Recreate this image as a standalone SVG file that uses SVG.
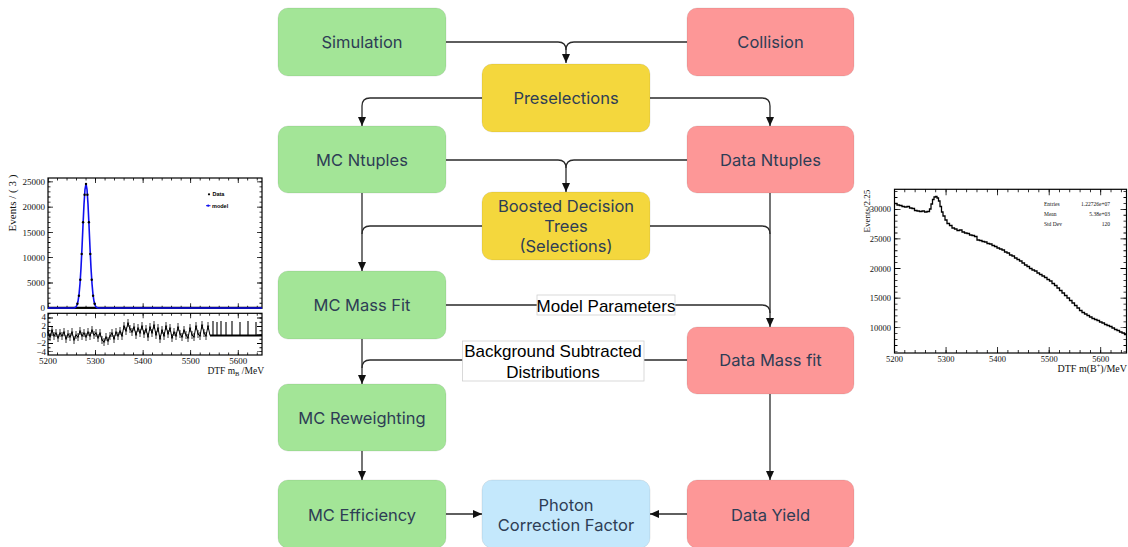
<svg xmlns="http://www.w3.org/2000/svg" width="1128" height="547" viewBox="0 0 1128 547">
  <style>
    .node rect { stroke: #000; stroke-opacity: 0.08; stroke-width: 1; }
    .green rect { fill: #a3e597; }
    .red rect { fill: #fd9797; }
    .yellow rect { fill: #f4d73d; }
    .blue rect { fill: #c4e8fc; }
    .node text { font-family: Inter, "Open Sans", sans-serif; font-size: 16.5px; fill: #2e3d55; text-anchor: middle; }
    .conn path { fill: none; stroke: #2a2a2a; stroke-width: 1.3; }
    .lbl rect { fill: #fff; stroke: #d0d0d0; stroke-width: 0.8; }
    .lbl text { font-family: "Liberation Sans", Arial, sans-serif; font-size: 17px; fill: #000; text-anchor: middle; }
    .ax { font-family: "Liberation Serif", "Times New Roman", serif; fill: #111; }
    .tk { stroke: #000; fill: none; }
    .frame { fill: none; stroke: #000; stroke-width: 1.2; }
  </style>
  <defs>
    <marker id="arr" markerUnits="userSpaceOnUse" markerWidth="10" markerHeight="9" refX="9" refY="4" orient="auto">
      <path d="M0,0 L9,4 L0,8 z" fill="#111"/>
    </marker>
    <!-- error bar drawn at every pull point -->
    <marker id="ebar" markerUnits="userSpaceOnUse" markerWidth="3" markerHeight="10" refX="1.5" refY="5" orient="0">
      <path d="M1.5,1 V9 M0.3,5 H2.7" stroke="#000" stroke-width="0.8"/>
    </marker>
  </defs>

  <rect width="1128" height="547" fill="#fff"/>

  <!-- left plot: fitted mass distribution with pull panel -->
  <g id="plot-mc-fit">
    <text class="ax" font-size="11" transform="translate(16,203) rotate(-90)" text-anchor="middle">Events / ( 3 )</text>
    <rect class="frame" x="48" y="178" width="214" height="130.3"/>
    <g class="ax" font-size="9" text-anchor="end">
      <text x="45" y="184.8">25000</text>
      <text x="45" y="210.2">20000</text>
      <text x="45" y="235.5">15000</text>
      <text x="45" y="260.8">10000</text>
      <text x="45" y="286.1">5000</text>
      <text x="45" y="311.4">0</text>
    </g>
    <g class="tk">
      <line x1="49.25" y1="308.3" x2="49.25" y2="178" stroke-width="2.5" stroke-dasharray="0.8 4.26" stroke-dashoffset="0.4"/>
      <line x1="50.5" y1="308.3" x2="50.5" y2="178" stroke-width="5" stroke-dasharray="0.8 24.5" stroke-dashoffset="0.4"/>
      <line x1="260.75" y1="308.3" x2="260.75" y2="178" stroke-width="2.5" stroke-dasharray="0.8 4.26" stroke-dashoffset="0.4"/>
      <line x1="259.5" y1="308.3" x2="259.5" y2="178" stroke-width="5" stroke-dasharray="0.8 24.5" stroke-dashoffset="0.4"/>
      <line x1="48" y1="179.25" x2="262" y2="179.25" stroke-width="2.5" stroke-dasharray="0.8 8.71" stroke-dashoffset="0.4"/>
      <line x1="48" y1="180.5" x2="262" y2="180.5" stroke-width="5" stroke-dasharray="0.8 46.76" stroke-dashoffset="0.4"/>
      <line x1="48" y1="307.05" x2="262" y2="307.05" stroke-width="2.5" stroke-dasharray="0.8 8.71" stroke-dashoffset="0.4"/>
      <line x1="48" y1="305.8" x2="262" y2="305.8" stroke-width="5" stroke-dasharray="0.8 46.76" stroke-dashoffset="0.4"/>
    </g>
    <line x1="48" y1="307.6" x2="262" y2="307.6" stroke="#000" stroke-width="1.8"/>
    <polyline fill="none" stroke="#1010ee" stroke-width="1.6" stroke-linejoin="round"
      points="48,308 74,308 75,307.6 76,306.8 77,305.1 78,301.3 79,294.6 80,283.7 81,268 82,247.8 83,225.3 84,204.3 85,189.3 86,183.8 87,189.3 88,204.3 89,225.3 90,247.8 91,268 92,283.7 93,294.6 94,301.3 95,305.1 96,306.8 97,307.6 98,308 262,308"/>
    <g fill="#000">
      <circle cx="86" cy="184" r="1.2"/>
      <circle cx="84.6" cy="194.7" r="1.2"/><circle cx="87.4" cy="194.7" r="1.2"/>
      <circle cx="83.1" cy="222.2" r="1.2"/><circle cx="88.9" cy="222.2" r="1.2"/>
      <circle cx="81.7" cy="254" r="1.2"/><circle cx="90.3" cy="254" r="1.2"/>
      <circle cx="80.3" cy="279.8" r="1.2"/><circle cx="91.7" cy="279.8" r="1.2"/>
      <circle cx="78.9" cy="295.8" r="1.2"/><circle cx="93.1" cy="295.8" r="1.2"/>
      <circle cx="77.4" cy="303.8" r="1.2"/><circle cx="94.6" cy="303.8" r="1.2"/>
    </g>
    <g font-family="'Liberation Sans', Arial, sans-serif" font-size="5.5" font-weight="bold">
      <circle cx="209" cy="194.3" r="1.1" fill="#000"/>
      <text x="212.5" y="196.3" fill="#000">Data</text>
      <line x1="206" y1="205.7" x2="210.5" y2="205.7" stroke="#1010ee" stroke-width="1"/>
      <circle cx="208.2" cy="205.7" r="1.1" fill="#1010ee"/>
      <text x="212" y="207.7" fill="#000">model</text>
    </g>

    <!-- pull panel -->
    <rect class="frame" x="48" y="313.3" width="214" height="41.7"/>
    <g class="ax" font-size="9" text-anchor="end">
      <text x="46" y="320.3">4</text>
      <text x="46" y="329">2</text>
      <text x="46" y="338">0</text>
      <text x="46" y="346.3">−2</text>
      <text x="46" y="354.7">−4</text>
    </g>
    <g class="tk">
      <line x1="49.25" y1="352" x2="49.25" y2="313.3" stroke-width="2.5" stroke-dasharray="0.8 3.45" stroke-dashoffset="0.4"/>
      <line x1="50.5" y1="352" x2="50.5" y2="313.3" stroke-width="5" stroke-dasharray="0.8 7.7" stroke-dashoffset="0.4"/>
      <line x1="260.75" y1="352" x2="260.75" y2="313.3" stroke-width="2.5" stroke-dasharray="0.8 3.45" stroke-dashoffset="0.4"/>
      <line x1="259.5" y1="352" x2="259.5" y2="313.3" stroke-width="5" stroke-dasharray="0.8 7.7" stroke-dashoffset="0.4"/>
      <line x1="48" y1="314.55" x2="262" y2="314.55" stroke-width="2.5" stroke-dasharray="0.8 8.71" stroke-dashoffset="0.4"/>
      <line x1="48" y1="315.8" x2="262" y2="315.8" stroke-width="5" stroke-dasharray="0.8 46.76" stroke-dashoffset="0.4"/>
      <line x1="48" y1="353.75" x2="262" y2="353.75" stroke-width="2.5" stroke-dasharray="0.8 8.71" stroke-dashoffset="0.4"/>
      <line x1="48" y1="352.5" x2="262" y2="352.5" stroke-width="5" stroke-dasharray="0.8 46.76" stroke-dashoffset="0.4"/>
    </g>
    <polyline fill="none" stroke="#000" stroke-width="1" stroke-linejoin="round" marker-start="url(#ebar)" marker-mid="url(#ebar)"
      points="48,332 50,337 52,330 54,336 56,333 58,338 60,333 62,336 64,332 66,339 68,334 70,337 72,332 74,340 76,335 78,337 80,331 82,336 84,333 86,337 88,332 90,336 92,330 94,335 96,333 98,338 100,333 102,340 104,342 106,337 108,341 110,336 112,333 114,339 116,332 118,336 120,331 122,336 124,326 126,331 128,323 130,329 132,332 134,327 136,335 138,328 140,333 142,326 144,334 146,329 148,337 150,327 152,333 154,325 156,335 158,328 160,339 162,330 164,336 166,326 168,334 170,328 172,338 174,332 176,336 178,327 180,334 182,337 184,330 186,335 188,338 190,328 192,335 194,337 196,326 198,334 200,336 202,325 204,333 206,336 208,326 210,335.5"/>
    <line x1="210" y1="335.5" x2="262" y2="335.5" stroke="#000" stroke-width="2.2"/>
    <path d="M213,335 V321 M217,335 V322 M221,335 V321 M226,335 V322 M232,335 V321 M240,335 V322 M248,335 V321 M256,335 V322" stroke="#000" stroke-width="1.1"/>
    <g class="ax" font-size="9" text-anchor="middle">
      <text x="48" y="364">5200</text>
      <text x="95.6" y="364">5300</text>
      <text x="143.1" y="364">5400</text>
      <text x="190.7" y="364">5500</text>
      <text x="238.2" y="364">5600</text>
    </g>
    <text class="ax" font-size="9.5" x="264" y="374" text-anchor="end">DTF m<tspan font-size="6.5" dy="2">B</tspan><tspan dy="-2"> /MeV</tspan></text>
  </g>

  <!-- right plot: data mass distribution -->
  <g id="plot-data-mass">
    <text class="ax" font-size="9" transform="translate(870,211) rotate(-90)" text-anchor="middle">Events/2.25</text>
    <rect class="frame" x="894.5" y="189.3" width="232" height="163.7"/>
    <g class="ax" font-size="8.5" text-anchor="end">
      <text x="891" y="212.3">30000</text>
      <text x="891" y="241.9">25000</text>
      <text x="891" y="271.5">20000</text>
      <text x="891" y="301.1">15000</text>
      <text x="891" y="330.7">10000</text>
    </g>
    <g class="tk">
      <line x1="896" y1="351.4" x2="896" y2="189.3" stroke-width="3" stroke-dasharray="0.8 5.12" stroke-dashoffset="0.4"/>
      <line x1="897.5" y1="327.7" x2="897.5" y2="189.3" stroke-width="6" stroke-dasharray="0.8 28.8" stroke-dashoffset="0.4"/>
      <line x1="1125" y1="351.4" x2="1125" y2="189.3" stroke-width="3" stroke-dasharray="0.8 5.12" stroke-dashoffset="0.4"/>
      <line x1="1123.5" y1="327.7" x2="1123.5" y2="189.3" stroke-width="6" stroke-dasharray="0.8 28.8" stroke-dashoffset="0.4"/>
      <line x1="894.5" y1="351.5" x2="1126.5" y2="351.5" stroke-width="3" stroke-dasharray="0.8 9.51" stroke-dashoffset="0.4"/>
      <line x1="894.5" y1="350" x2="1126.5" y2="350" stroke-width="6" stroke-dasharray="0.8 50.76" stroke-dashoffset="0.4"/>
      <line x1="894.5" y1="190.8" x2="1126.5" y2="190.8" stroke-width="3" stroke-dasharray="0.8 9.51" stroke-dashoffset="0.4"/>
      <line x1="894.5" y1="192.3" x2="1126.5" y2="192.3" stroke-width="6" stroke-dasharray="0.8 50.76" stroke-dashoffset="0.4"/>
    </g>
    <path fill="none" stroke="#000" stroke-width="1.3"
      d="M894.5,203.5 H897 V205 H899.5 V205.5 H902 V206.5 H904.5 V207 H907 V206.5 H909.5 V208 H912 V208.5 H914.5 V210.5 H917 V211 H919.5 V211.5 H922 V211 H924.5 V212 H927 V211.5 H929.5 V209 H931 V204 H932.5 V199.5 H934 V197 H935.5 V196.5 H937 V198 H938.5 V201 H940 V206.5 H941.5 V212 H943 V216 H945 V220 H947 V223.5 H949.5 V225.5 H952 V228 H954.5 V229 H957 V230.5 H959.5 V230 H962 V232 H964.5 V233 H967 V233.5 H969.5 V235 H972 V235.5 H974.5 V236.5 H977 V240 H979.5 V240.5 H982 V241.5 H984.5 V242 H987 V243.5 H989.5 V244 H992 V245.5 H994.5 V246.5 H997 V248 H999.5 V249 H1002 V250 H1004.5 V252 H1007 V253 H1009.5 V255 H1012 V256 H1014.5 V258 H1017 V259.5 H1019.5 V261 H1022 V263 H1024.5 V265 H1027 V266.5 H1029.5 V268.5 H1032 V270 H1034.5 V271 H1037 V273 H1039.5 V274.5 H1042 V276 H1044.5 V277.5 H1047 V279.5 H1049.5 V281 H1052 V283.5 H1054.5 V285.5 H1057 V288 H1059.5 V290.5 H1062 V293 H1064.5 V295.5 H1067 V298 H1069.5 V300.5 H1072 V303 H1074.5 V305.5 H1077 V308 H1079.5 V310.5 H1082 V312.5 H1084.5 V314 H1087 V315.5 H1089.5 V317 H1092 V318.5 H1094.5 V319.5 H1097 V320.5 H1099.5 V322 H1102 V323 H1104.5 V324.5 H1107 V325.5 H1109.5 V326.5 H1112 V328 H1114.5 V329.5 H1117 V330.5 H1119.5 V332 H1122 V333 H1124.5 V334.5 H1126.5"/>
    <g class="ax" font-size="5.5">
      <text x="1044" y="206">Entries</text>
      <text x="1110" y="206" text-anchor="end">1.22726e+07</text>
      <text x="1044" y="216">Mean</text>
      <text x="1110" y="216" text-anchor="end">5.38e+03</text>
      <text x="1044" y="226">Std Dev</text>
      <text x="1110" y="226" text-anchor="end">120</text>
    </g>
    <g class="ax" font-size="8.5" text-anchor="middle">
      <text x="894.5" y="362">5200</text>
      <text x="946" y="362">5300</text>
      <text x="997.6" y="362">5400</text>
      <text x="1049.2" y="362">5500</text>
      <text x="1100.7" y="362">5600</text>
    </g>
    <text class="ax" font-size="10" x="1127" y="372" text-anchor="end">DTF m(B<tspan font-size="6.5" dy="-4">+</tspan><tspan dy="4">)/MeV</tspan></text>
  </g>

  <!-- connectors -->
  <g id="connectors" class="conn">
    <path d="M446,42 H558 Q566,42 566,50 V63" marker-end="url(#arr)"/>
    <path d="M687,42 H574 Q566,42 566,50"/>
    <path d="M482,98 H370 Q362,98 362,106 V126" marker-end="url(#arr)"/>
    <path d="M650,98 H762 Q770,98 770,106 V126" marker-end="url(#arr)"/>
    <path d="M446,160 H558 Q566,160 566,168 V192" marker-end="url(#arr)"/>
    <path d="M687,160 H574 Q566,160 566,168"/>
    <path d="M362,193 V271" marker-end="url(#arr)"/>
    <path d="M482,226 H370 Q362,226 362,234"/>
    <path d="M770,193 V327" marker-end="url(#arr)"/>
    <path d="M650,226 H762 Q770,226 770,234"/>
    <path d="M446,305 H762 Q770,305 770,313"/>
    <path d="M362,339 V384" marker-end="url(#arr)"/>
    <path d="M687,360 H370 Q362,360 362,368"/>
    <path d="M362,451 V480" marker-end="url(#arr)"/>
    <path d="M770,394 V480" marker-end="url(#arr)"/>
    <path d="M446,514 H482" marker-end="url(#arr)"/>
    <path d="M687,514 H650" marker-end="url(#arr)"/>
    <g class="lbl">
      <rect x="537" y="295" width="138" height="20"/>
      <text x="606" y="311.5">Model Parameters</text>
      <rect x="462.5" y="341" width="181.5" height="40"/>
      <text x="553" y="357">Background Subtracted</text>
      <text x="553" y="377.5">Distributions</text>
    </g>
  </g>

  <!-- nodes -->
  <g id="simulation" class="node green"><rect x="278" y="8" width="168" height="68" rx="10"/><text x="362" y="48">Simulation</text></g>
  <g id="collision" class="node red"><rect x="687" y="8" width="167" height="68" rx="10"/><text x="770.5" y="48">Collision</text></g>
  <g id="preselections" class="node yellow"><rect x="482" y="64" width="168" height="68" rx="10"/><text x="566" y="104">Preselections</text></g>
  <g id="mc-ntuples" class="node green"><rect x="278" y="126" width="168" height="67" rx="10"/><text x="362" y="166">MC Ntuples</text></g>
  <g id="data-ntuples" class="node red"><rect x="687" y="126" width="167" height="67" rx="10"/><text x="770.5" y="166">Data Ntuples</text></g>
  <g id="bdt" class="node yellow"><rect x="482" y="192" width="168" height="68" rx="10"/><text x="566" y="212">Boosted Decision</text><text x="566" y="232">Trees</text><text x="566" y="252">(Selections)</text></g>
  <g id="mc-mass-fit" class="node green"><rect x="278" y="271" width="168" height="68" rx="10"/><text x="362" y="311">MC Mass Fit</text></g>
  <g id="data-mass-fit" class="node red"><rect x="687" y="327" width="167" height="67" rx="10"/><text x="770.5" y="366">Data Mass fit</text></g>
  <g id="mc-reweighting" class="node green"><rect x="278" y="384" width="168" height="67" rx="10"/><text x="362" y="424">MC Reweighting</text></g>
  <g id="mc-efficiency" class="node green"><rect x="278" y="480" width="168" height="68" rx="10"/><text x="362" y="521">MC Efficiency</text></g>
  <g id="photon-correction" class="node blue"><rect x="482" y="480" width="168" height="68" rx="10"/><text x="566" y="511">Photon</text><text x="566" y="531">Correction Factor</text></g>
  <g id="data-yield" class="node red"><rect x="687" y="480" width="167" height="68" rx="10"/><text x="770.5" y="521">Data Yield</text></g>
</svg>
